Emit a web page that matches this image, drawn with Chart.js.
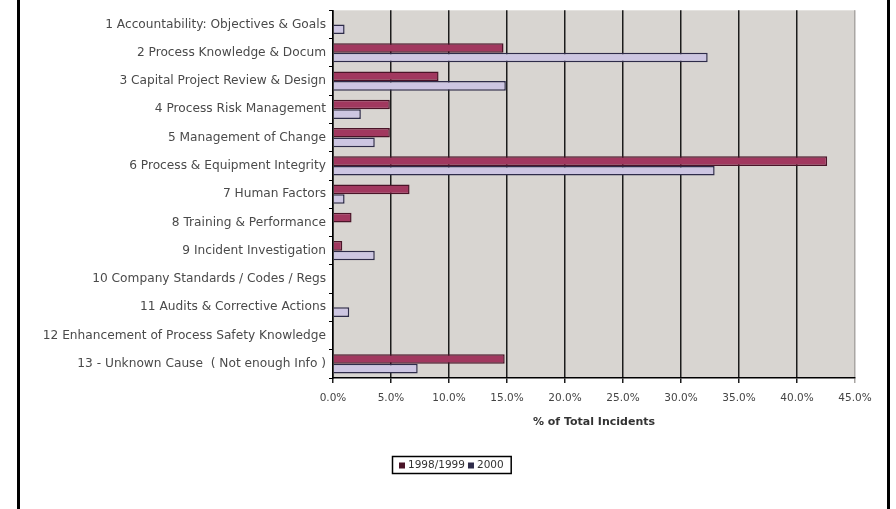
<!DOCTYPE html>
<html>
<head>
<meta charset="utf-8">
<script src="https://cdn.jsdelivr.net/npm/chart.js@4/dist/chart.umd.min.js"></script>
<style>
  html, body { margin: 0; padding: 0; background: #fff; }
  #wrap { width: 896px; height: 509px; }
</style>
</head>
<body>
<div id="wrap"><canvas id="chart" width="896" height="509"></canvas></div>
<script>
// Categories and series values (% of total incidents)
const categories = [
  "1 Accountability: Objectives & Goals",
  "2 Process Knowledge & Docum",
  "3 Capital Project Review & Design",
  "4 Process Risk Management",
  "5 Management of Change",
  "6 Process & Equipment Integrity",
  "7 Human Factors",
  "8 Training & Performance",
  "9 Incident Investigation",
  "10 Company Standards / Codes / Regs",
  "11 Audits & Corrective Actions",
  "12 Enhancement of Process Safety Knowledge",
  "13 - Unknown Cause  ( Not enough Info )"
];
const seriesNames = ["1998/1999", "2000"];
const values9899 = [0, 14.7, 9.1, 4.9, 4.9, 42.6, 6.6, 1.6, 0.8, 0, 0, 0, 14.8];
const values2000 = [1.0, 32.3, 14.9, 2.4, 3.6, 32.9, 1.0, 0, 3.6, 0, 1.4, 0, 7.3];
const xTicks = [0, 5, 10, 15, 20, 25, 30, 35, 40, 45];

const FONT = "'DejaVu Sans', Verdana, sans-serif";

// Gray plot area + outer frame lines
const backdrop = {
  id: "backdrop",
  beforeDraw(chart) {
    const { ctx, chartArea: a } = chart;
    ctx.save();
    ctx.fillStyle = "#d8d5d1";
    ctx.fillRect(a.left, a.top, a.right - a.left, a.bottom - a.top);
    ctx.fillStyle = "#000";
    ctx.fillRect(17, 0, 3, chart.height);
    ctx.fillRect(887, 0, 3, chart.height);
    ctx.restore();
  }
};

// Boxed legend below the axis title, like the spreadsheet original
const boxLegend = {
  id: "boxLegend",
  afterDraw(chart) {
    const { ctx } = chart;
    const sets = chart.data.datasets;
    ctx.save();
    ctx.font = "10.5px " + FONT;
    ctx.textBaseline = "middle";
    const sq = 6, gap = 3, pad = 7;
    let w = pad;
    sets.forEach((ds) => { w += sq + gap + ctx.measureText(ds.label).width + 3; });
    w += pad - 3;
    const h = 17;
    const x0 = Math.round(451 - w / 2), y0 = 456;
    ctx.fillStyle = "#fff";
    ctx.fillRect(x0, y0, w, h);
    ctx.strokeStyle = "#000";
    ctx.lineWidth = 1.5;
    ctx.strokeRect(x0 + 0.5, y0 + 0.5, w, h);
    let x = x0 + pad;
    const cy = y0 + h / 2 + 1;
    sets.forEach((ds) => {
      ctx.fillStyle = ds.borderColor;
      ctx.fillRect(x, cy - sq / 2, sq, sq);
      x += sq + gap;
      ctx.fillStyle = "#333";
      ctx.fillText(ds.label, x, cy);
      x += ctx.measureText(ds.label).width + 3;
    });
    ctx.restore();
  }
};

const ctx = document.getElementById("chart").getContext("2d");
new Chart(ctx, {
  type: "bar",
  data: {
    labels: categories,
    datasets: [
      {
        label: seriesNames[0],
        data: values9899,
        backgroundColor: "#a1385f",
        borderColor: "#4a1428",
        borderWidth: 1.5
      },
      {
        label: seriesNames[1],
        data: values2000,
        backgroundColor: "#cdc6e2",
        borderColor: "#2e2c4a",
        borderWidth: 1.5
      }
    ]
  },
  options: {
    indexAxis: "y",
    responsive: false,
    animation: false,
    layout: { padding: { left: 0, right: 41, top: 9, bottom: 0 } },
    datasets: { bar: { categoryPercentage: 0.68, barPercentage: 1.0 } },
    plugins: {
      legend: { display: false },
      tooltip: { enabled: false }
    },
    scales: {
      x: {
        min: 0,
        max: 45,
        afterFit(scale) { scale.height = 131; },
        afterBuildTicks(scale) { scale.ticks = xTicks.map((v) => ({ value: v })); },
        ticks: {
          padding: 9,
          color: "#444",
          font: { family: FONT, size: 10.5 },
          callback: (v) => Number(v).toFixed(1) + "%"
        },
        grid: {
          color: (c) => (c.tick && c.tick.value === 45 ? "#a9a6a3" : "#1c1c1c"),
          lineWidth: 1.5,
          tickLength: 5
        },
        border: { display: true, color: "#000", width: 1.5 },
        title: {
          display: true,
          text: "% of Total Incidents",
          color: "#333",
          font: { family: FONT, size: 11, weight: "bold" },
          padding: { top: 0, bottom: 80 }
        }
      },
      y: {
        afterFit(scale) { scale.width = 333; },
        ticks: {
          padding: 3,
          color: "#4a4a4a",
          font: { family: FONT, size: 12.2 }
        },
        grid: {
          offset: true,
          drawOnChartArea: false,
          color: "#000",
          tickLength: 4
        },
        border: { display: true, color: "#000", width: 1.5 }
      }
    }
  },
  plugins: [backdrop, boxLegend]
});
</script>
</body>
</html>
